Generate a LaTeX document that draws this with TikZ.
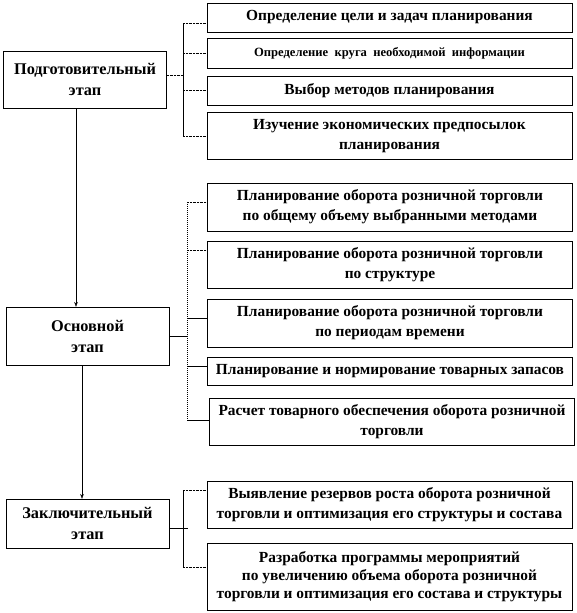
\documentclass[tikz,border=0pt]{standalone}
\usepackage{fontspec}
\setmainfont{Liberation Serif}
\usetikzlibrary{arrows.meta, positioning, calc}

\begin{document}
\begin{tikzpicture}[x=1pt, y=-1pt, >=Stealth,
    stage/.style={draw, fill=white, minimum width=163pt, align=center,
                  font=\bfseries\fontsize{16.3}{21}\selectfont},
    task/.style={draw, minimum width=365pt, align=center, inner sep=1pt,
                 font=\bfseries\fontsize{15.4}{20}\selectfont},
    tick/.style={densely dotted}]
  \useasboundingbox (0,0) rectangle (577,613);

  % stages
  \node[stage, minimum height=57pt] (prep) at (85,79.5)
    {Подготовительный\\этап};
  \node[stage, minimum height=58pt] (main) at (87.5,336)
    {Основной\\этап};
  \node[stage, minimum height=49pt] (final) at (87.5,523.5)
    {Заключительный\\этап};

  % preparation tasks
  \node[task, minimum height=29pt] (t1) at (389.5,17.5)
    {Определение цели и задач планирования};
  \node[task, minimum height=30pt, below=6pt of t1,
        font=\bfseries\fontsize{12.6}{16}\selectfont] (t2)
    {Определение\ \ круга\ \ необходимой\ \ информации};
  \node[task, minimum height=29pt, below=7pt of t2] (t3)
    {Выбор методов планирования};
  \node[task, minimum height=47pt, below=7pt of t3] (t4)
    {Изучение экономических предпосылок\\планирования};

  % main tasks
  \node[task, minimum height=48pt] (m1) at (390,207)
    {Планирование оборота розничной торговли\\по общему объему выбранными методами};
  \node[task, minimum height=47pt, below=10pt of m1] (m2)
    {Планирование оборота розничной торговли\\по структуре};
  \node[task, minimum height=48pt, below=10pt of m2] (m3)
    {Планирование оборота розничной торговли\\по периодам времени};
  \node[task, minimum height=28pt, below=10pt of m3] (m4)
    {Планирование и нормирование товарных запасов};
  \node[task, minimum height=47pt, below=13pt of m4, xshift=2pt] (m5)
    {Расчет товарного обеспечения оборота розничной\\торговли};

  % final tasks
  \node[task, minimum height=47pt] (b1) at (389.5,504.5)
    {Выявление резервов роста оборота розничной\\торговли и оптимизация его структуры и состава};
  \node[task, minimum height=67pt, below=15pt of b1,
        font=\bfseries\fontsize{15.4}{18}\selectfont] (b2)
    {Разработка программы мероприятий\\по увеличению объема оборота розничной\\торговли и оптимизация его состава и структуры};

  % brackets
  \coordinate (bar1) at (183,0);
  \coordinate (bar2) at (187,0);
  \coordinate (bar3) at (183,0);

  \draw ([yshift=-5.5pt]t1.west -| bar1) -- (t4.west -| bar1);
  \draw[tick] ([yshift=4.5pt]prep.east) -- ([yshift=4.5pt]prep.east -| bar1);
  \draw[tick] ([yshift=-5.5pt]t1.west -| bar1) -- ([yshift=-5.5pt]t1.west);
  \foreach \n in {t2,t3,t4}
    \draw[tick] (\n.west -| bar1) -- (\n.west);

  \draw[densely dotted, line width=1pt] ([yshift=5pt]m1.west -| bar2) -- ([yshift=1.5pt]m5.west -| bar2);
  \draw (main.east) -- (main.east -| bar2);
  \draw[tick] ([yshift=5pt]m1.west -| bar2) -- ([yshift=5pt]m1.west);
  \draw[tick] ([yshift=14.5pt]m2.west -| bar2) -- ([yshift=14.5pt]m2.west);
  \draw ([yshift=5pt]m3.west -| bar2) -- ([yshift=5pt]m3.west);
  \draw ([yshift=5pt]m4.west -| bar2) -- ([yshift=5pt]m4.west);
  \draw ([yshift=1.5pt]m5.west -| bar2) -- ([yshift=1.5pt]m5.west);

  \draw ([yshift=14.5pt]b1.west -| bar3) -- ([yshift=9.5pt]b2.west -| bar3);
  \draw ([yshift=-4.5pt]final.east) -- ([yshift=-4.5pt,xshift=5pt]final.east -| bar3);
  \draw[tick] ([yshift=14.5pt]b1.west -| bar3) -- ([yshift=14.5pt]b1.west);
  \draw[tick] ([yshift=9.5pt]b2.west -| bar3) -- ([yshift=9.5pt]b2.west);

  % stage flow
  \draw[->] ([xshift=-9pt]prep.south) -- ([xshift=-9pt]prep.south |- main.north);
  \draw[->] ([xshift=-5.5pt]main.south) -- ([xshift=-5.5pt]main.south |- final.north);
\end{tikzpicture}
\end{document}
